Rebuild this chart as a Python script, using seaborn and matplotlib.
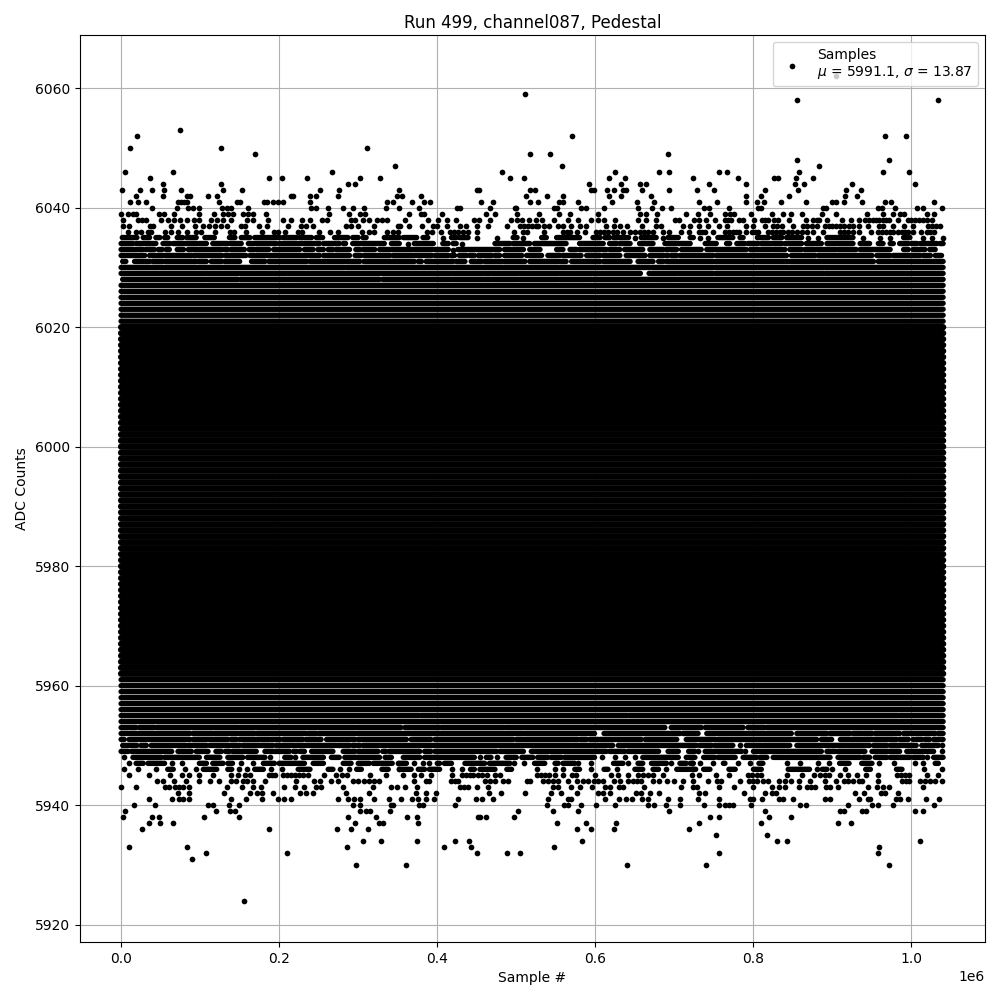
import pandas as pd
import matplotlib
matplotlib.use('Agg')
import matplotlib.pyplot as plt
import seaborn as sns

# Sample positions are in thousands of samples
pts_6062 = [904]
pts_6059 = [511]
pts_6058 = [855.5, 1034]
pts_6053 = [74.5]
pts_6052 = [20, 571, 967, 993.5]
pts_6050 = [11, 126, 311]
pts_6049 = [169, 517.5, 543, 692]
pts_6048 = [855.5, 971]
pts_6047 = [347, 558, 883]
pts_6046 = [5, 66, 267, 482, 625, 681, 693.5, 757, 766, 858, 964, 997]
pts_6045 = [36.5, 187, 204, 235, 302, 328, 492, 510, 617.5, 638, 723, 781, 826, 831, 854, 876]
pts_6044 = [53, 126, 287, 296, 592, 633, 657, 664, 744, 790, 852, 864, 925, 1004]
pts_6043 = [1, 24, 39, 54, 76, 129, 153, 252, 276, 352, 450, 453, 517.5, 524, 595, 598.5, 615, 623,
            635, 639, 659, 693.5, 728, 750, 815, 857, 917, 936]
pts_6042 = [19, 53, 83, 87, 110, 121, 215, 218, 239, 247, 274, 349, 355, 380, 512, 539, 559, 617.5,
            633, 671, 791, 810, 845, 916, 931]
pts_6041 = [11, 21, 31, 72, 76, 80, 83, 124, 147, 150, 181, 185, 192, 199, 205, 239, 336, 344, 368,
            383, 391, 455.5, 471, 517.5, 528, 554, 559, 578, 621, 653, 674, 731, 754, 790, 804, 814,
            835, 867, 899, 905, 914, 938, 966, 974, 1029]
pts_6040 = [39, 71, 85, 91, 98.5, 128, 134, 139, 161, 240, 247, 262, 281, 293, 307, 335, 352, 377,
            425, 429, 467, 498, 500, 548, 552, 582, 588, 611, 654, 672, 684.5, 696, 738, 744, 769,
            806, 809, 888, 892, 958, 963, 979, 1007, 1014, 1039]
pts_6039 = [0, 9, 15, 19, 48, 54, 67, 98.5, 118, 129, 135, 141, 154, 161, 167, 183, 263, 288, 302, 309,
            364, 379.5, 383, 406, 462, 473, 501, 529, 554, 568, 603.5, 657, 664, 678, 715, 730, 745,
            764, 771, 776, 797, 823, 838, 848, 862, 887, 905, 944, 964, 977, 986, 990, 1019, 1029]
pts_6038 = [2, 21, 26, 31, 50, 59, 67, 74, 83, 92, 98.5, 114, 121, 129, 139, 159, 167, 186, 205, 215,
            229, 239, 254, 261, 291, 296, 306, 314, 324, 330, 336, 359, 388, 401, 412, 424, 447, 453,
            467, 493, 501, 507, 516, 525, 533, 548, 566, 578, 595, 604, 611, 625, 654, 664, 677, 701,
            706, 725, 731, 740, 752, 764, 768, 772, 782, 787, 801, 811, 815, 819, 826, 831, 845, 866,
            876, 880, 883, 893, 912, 923, 934, 941, 946, 951, 955, 959, 964, 968, 972, 983, 995, 1000,
            1005, 1010, 1015, 1020, 1026]
pts_6037 = [3, 10, 36, 40, 63, 77, 93, 103, 111, 119, 126, 134, 152, 157, 174, 185, 211, 228, 234, 243,
            285, 291, 300, 320, 350, 353, 364, 381, 395, 400, 412, 429, 436, 450, 464, 488, 505, 510,
            515, 520, 525, 528, 535, 541, 553, 559, 569, 581, 588, 614, 623, 631, 640, 659, 677, 683,
            711, 720, 731, 742, 757, 767, 791, 800, 815, 825, 830, 836, 850, 863, 868, 874, 880, 890,
            895, 900, 905, 910, 915, 921, 926, 933, 945, 959, 964, 977, 990, 1002, 1021, 1026, 1031, 1036]
pts_6036 = [9, 19, 25, 34, 38, 55, 63, 72, 83, 95, 101, 119, 138, 143, 158, 178, 193, 199, 207, 224, 229,
            250, 264, 274, 305, 314, 320, 336, 344, 350, 387, 393, 405, 416, 421, 426, 433, 439, 450,
            497, 509, 514, 535, 559, 564, 568, 577, 587, 601, 606, 611, 616, 622, 627, 635, 644, 650,
            656, 661, 667, 673, 685, 693.5, 708, 718, 731, 735, 739, 749, 764, 769, 774, 778, 782, 790,
            798, 802, 806, 819, 824, 829, 834, 838, 844, 849, 855, 861, 868, 876, 888, 909, 914, 920,
            926, 933, 949, 958, 963, 968, 973, 977, 983, 988, 992, 996, 1002, 1012, 1019, 1024, 1028]

pts_5947 = [10, 64, 77, 152, 167, 350, 371, 382, 390, 497, 510, 578, 595, 641, 696, 722, 733, 749, 780, 796,
            843, 859, 882, 895, 959, 978, 1005, 1014]
pts_5946 = [3.5, 21, 44, 81, 95, 149, 159, 190, 204, 277, 288, 352, 419, 431, 526, 549, 559, 594, 628,
            690, 724, 880, 900, 916, 1016, 1039]
pts_5945 = [10, 35, 62, 77, 86, 99, 116, 139, 148, 157, 163, 187, 191, 195, 205, 210, 215, 220, 225, 230,
            236, 257, 272, 279, 286, 315, 335, 357, 371, 379, 392, 419, 431, 436, 441, 445, 452, 457,
            463, 473, 479, 526, 531, 536, 541, 549, 559, 570, 576, 599, 620, 629, 641, 654, 660, 667,
            673, 686, 722, 731, 753, 769, 793, 798, 804, 810, 842, 862, 877, 884, 890, 896, 910, 920,
            931, 942, 958, 982, 987, 992, 997, 1020, 1033]
pts_5944 = [45, 53, 67, 82, 99, 112, 124, 139, 146, 154, 159, 167, 182, 221, 244, 252, 266, 274, 293, 300,
            307, 314, 320, 326, 371, 386, 390, 418, 422, 426, 461, 467, 473, 483, 490, 513, 517, 534,
            540, 546, 553, 566, 577, 584, 591, 598, 604, 610, 623, 631, 641, 648, 653, 658, 673, 681,
            691, 700, 711, 723, 742, 754, 759, 783, 795, 800, 805, 812, 819, 833, 840, 848, 858, 872,
            890, 904, 914, 920, 926, 933, 938, 958, 988, 993, 997, 1011, 1017, 1023, 1030, 1038]
pts_5943 = [0, 19, 55, 60, 68, 73, 78, 86, 134, 153, 167, 177, 206, 220, 231, 247, 253, 281, 319, 342, 349,
            359, 374, 429, 434, 439, 450, 464, 547, 553, 569, 580, 596, 612, 618, 630, 635, 662, 709,
            724, 729, 756, 776, 799, 823, 833, 840, 858, 868, 873, 878, 892, 897, 907, 945, 956, 964,
            972, 1014]
pts_5942 = [72, 86, 130, 163, 172, 178, 192, 226, 234, 243, 285, 314, 373, 386, 398, 466, 481, 511, 544,
            557, 577, 604, 610, 618, 652, 658, 669, 681, 731, 739, 788, 815, 823, 828, 929, 940, 961,
            967, 983]
pts_5941 = [35, 64, 73, 78, 86, 139, 158, 178, 198.5, 206, 215, 274, 287, 295, 302, 320, 339, 354, 368, 376,
            386, 396, 426, 449, 457, 471, 540, 566, 569, 612, 630, 639, 647, 659, 667, 692, 707, 730, 757,
            796, 800, 811, 833, 838, 850, 891, 897, 933, 945, 948, 980, 985, 995, 1018, 1035]
pts_5940 = [16, 43, 110, 116, 137, 149, 293, 302, 342, 344, 377, 382, 423, 539, 560, 566, 582, 601, 625, 666,
            674, 690, 707, 737, 757, 764, 769, 774, 797, 859, 866, 920, 950, 957, 977, 1029]
pts_5939 = [5, 120, 138, 144, 302, 310, 315, 340, 502, 547, 578, 693.5, 815, 910, 914, 938, 943, 1005, 1014]
pts_5938 = [2, 39, 48, 105, 149, 287, 322.5, 362, 374, 452, 454, 462, 497, 745, 757, 820, 847]
pts_5937 = [35, 49, 66, 296, 326, 331, 376, 552, 588, 626, 731, 809, 907, 924]
pts_5936 = [26, 187, 273, 291, 312.5, 577, 595, 623, 718]
pts_5935 = [753, 817]
pts_5934 = [306, 329, 374, 423, 440, 583, 830, 843, 1011]
pts_5933 = [10, 83, 286, 409, 443, 548, 959]
pts_5932 = [107, 210, 450, 488, 505, 757, 957]
pts_5931 = [90]
pts_5930 = [297, 360.5, 640, 740, 971]
pts_5924 = [155.5]

# Runs of overlapping samples (first, last), thousands of samples
runs_6035 = [(1.5, 20), (28, 36), (44, 49), (55, 59), (71, 78), (83, 95), (106, 118), (137, 144), (152, 163),
             (169, 201), (205, 222), (226, 230), (232, 241), (247, 255), (270, 287), (293, 300), (306, 310),
             (333, 352), (357, 374), (382, 388), (407, 407), (418, 424), (428, 439), (450, 450), (476, 476),
             (496, 501), (509, 509), (532, 538), (551, 580), (597, 606), (612, 618), (623, 642), (650, 650),
             (658, 677), (686, 686), (692, 705), (720, 724), (732, 732), (742, 742), (755, 774), (783, 787),
             (805, 819), (825, 836), (842, 861), (869, 869), (882, 882), (893, 926), (939, 939), (960, 960),
             (973, 973), (990, 998), (1015, 1015), (1026, 1026), (1040, 1040)]
runs_6034 = [(0, 15), (19, 44), (53, 62), (66, 97), (99, 108), (116, 135), (138, 152), (161, 196), (200, 251),
             (256, 276), (281, 284), (293, 333), (342, 352), (363, 363), (371, 395), (407, 414), (420, 424),
             (431, 431), (473, 492), (496, 517), (523, 563), (580, 610), (618, 627), (631, 644), (656, 673),
             (688, 703), (705, 720), (739, 753), (766, 770), (779, 789), (793, 806), (810, 836), (840, 861),
             (867, 886), (893, 926), (935, 947), (958, 964), (973, 977), (985, 996), (1000, 1007),
             (1011, 1032), (1036, 1040)]
runs_6033 = [(0, 20), (22.5, 27.5), (31, 42), (47, 52), (57, 61), (71, 79), (85, 127), (130, 135), (139, 156),
             (162, 168), (171, 187), (193, 226), (232, 243), (249, 256), (262, 268), (272, 289), (297, 302),
             (306, 321), (327, 395), (397, 414), (420, 420), (426, 479), (485, 509), (517, 530), (551, 559),
             (568, 576), (580, 614), (618, 631), (637, 660), (669, 686), (690, 703), (709, 734), (741, 791),
             (796, 823), (825, 840), (846, 861), (865, 905), (907, 930), (935, 973), (990, 996), (1002, 1017),
             (1023, 1030)]
runs_6032 = [(0, 30), (36, 89), (92, 128), (132, 158), (163, 251), (256, 289), (296, 304), (308, 340), (344, 369),
             (371, 393), (397, 414), (418, 422), (428, 437), (441, 447), (452, 469), (473, 479), (485, 507),
             (513, 532), (540, 555), (559, 582), (589, 606), (610, 631), (639, 663), (669, 692), (696, 703),
             (707, 749), (753, 842), (848, 878), (882, 950), (956, 973), (977, 1011), (1015, 1024), (1030, 1038)]
runs_6031 = [(2, 6), (17, 36), (40, 53), (56, 95), (98, 108), (114, 127), (131, 150), (165, 182), (187, 235),
             (239, 302), (307, 371), (376, 380), (386, 420), (424, 435), (443, 456), (460, 483), (485, 511),
             (517, 553), (555, 563), (570, 606), (610, 644), (654, 673), (680, 686), (690, 749), (751, 844),
             (846, 952), (958, 1040)]
runs_6030 = [(0, 283), (285, 669), (672, 1040)]
runs_6029 = [(0, 657), (668, 749), (752, 889), (891, 1040)]
runs_6028 = [(2, 107), (109, 148), (151, 210), (212, 327), (331, 418), (420, 457), (459, 467), (469, 502),
             (504, 553), (555, 595), (597, 669), (671, 703), (705, 1040)]

runs_5946 = [(59, 66), (104, 121), (135, 140), (169, 180), (224, 239), (262, 268), (298, 304), (330, 338), (352, 367),
             (376, 384), (390, 403), (442, 447), (454, 473), (488, 494), (574, 580), (611, 616), (650, 660), (673, 680),
             (703, 718), (720, 727), (737, 745), (769, 777), (800, 810), (844, 871), (887, 893), (942, 948), (981, 988)]
runs_5947 = [(19, 28), (34, 55), (99, 108), (116, 129), (135, 141), (180, 194), (200, 232), (243, 256), (281, 291),
             (300, 314), (319, 343), (352, 361), (400, 403), (409, 418), (435, 460), (466, 492), (523, 536), (549, 553),
             (559, 574), (623, 635), (654, 660), (671, 690), (707, 715), (720, 724), (762, 764), (807, 812), (909, 921),
             (937, 950), (1030, 1034)]
runs_5948 = [(4, 4), (15, 51), (55, 99), (108, 125), (135, 154), (160, 182), (188, 188), (207, 215), (220, 220),
             (230, 256), (266, 276), (283, 327), (334, 342), (357, 378), (384, 447), (454, 454), (462, 468),
             (475, 475), (487, 500), (507, 521), (527, 540), (544, 557), (561, 599), (608, 608), (625, 625),
             (637, 637), (650, 650), (660, 671), (673, 705), (715, 726), (737, 751), (755, 777), (787, 804),
             (808, 817), (825, 897), (907, 935), (939, 947), (954, 969), (973, 998), (1002, 1015), (1020, 1020),
             (1028, 1040)]
runs_5949 = [(0, 9), (13, 64), (72, 89), (95, 110), (120, 127), (132, 137), (141, 171), (182, 213), (218, 222),
             (226, 232), (241, 268), (281, 296), (300, 325), (331, 335), (339, 378), (384, 392), (397, 475),
             (479, 509), (519, 614), (618, 637), (641, 680), (692, 705), (718, 726), (730, 730), (739, 785),
             (789, 789), (800, 840), (842, 886), (893, 904), (907, 916), (918, 941), (950, 985), (994, 1028),
             (1039, 1039)]
runs_5950 = [(2, 20), (25, 32), (38, 82), (85, 108), (112, 150), (154, 175), (177, 192), (196, 220), (222, 272),
             (274, 289), (293, 302), (306, 570), (572, 622), (629, 728), (732, 747), (751, 774), (783, 783),
             (791, 810), (812, 846), (855, 897), (899, 947), (952, 969), (973, 1006), (1013, 1019), (1021, 1034),
             (1038, 1038)]
runs_5951 = [(0, 4), (10, 87), (91, 135), (139, 146), (150, 188), (190, 201), (205, 230), (234, 253), (260, 296),
             (300, 361), (367, 392), (397, 496), (500, 578), (581, 589), (593, 604), (606, 658), (663, 703),
             (715, 752), (755, 880), (886, 899), (910, 981), (985, 996), (1002, 1003), (1006, 1013), (1017, 1023),
             (1028, 1040)]
runs_5952 = [(0, 9), (11, 87), (91, 116), (118, 169), (172, 234), (237, 247), (250, 367), (369, 509), (511, 599),
             (611, 707), (711, 730), (741, 848), (855, 893), (897, 922), (926, 937), (939, 950), (954, 977),
             (979, 985), (990, 1030), (1034, 1040)]
runs_5953 = [(0, 19), (23, 42), (45, 148), (150, 296), (298, 354), (359, 403), (405, 485), (487, 688), (696, 734),
             (739, 787), (793, 814), (817, 1040)]
runs_5955 = [(0, 15), (16, 377), (379, 641), (643, 983), (985, 1040)]

edge_levels = [6027, 6026, 6025, 6024, 6023, 6022, 6021, 5961, 5960, 5959, 5958, 5957, 5956, 5954]
core_levels = [6020, 6019, 6018, 6017, 6016, 6015, 6014, 6013, 6012, 6011, 6010, 6009, 6008, 6007, 6006,
               6005, 6004, 6003, 6002, 6001, 6000, 5999, 5998, 5997, 5996, 5995, 5994, 5993, 5992, 5991,
               5990, 5989, 5988, 5987, 5986, 5985, 5984, 5983, 5982, 5981, 5980, 5979, 5978, 5977, 5976,
               5975, 5974, 5973, 5972, 5971, 5970, 5969, 5968, 5967, 5966, 5965, 5964, 5963, 5962]
first_sample = 0
last_sample = 1040

point_rows = [(6062, pts_6062), (6059, pts_6059), (6058, pts_6058), (6053, pts_6053), (6052, pts_6052),
              (6050, pts_6050), (6049, pts_6049), (6048, pts_6048), (6047, pts_6047), (6046, pts_6046),
              (6045, pts_6045), (6044, pts_6044), (6043, pts_6043), (6042, pts_6042), (6041, pts_6041),
              (6040, pts_6040), (6039, pts_6039), (6038, pts_6038), (6037, pts_6037), (6036, pts_6036),
              (5947, pts_5947), (5946, pts_5946), (5945, pts_5945), (5944, pts_5944), (5943, pts_5943),
              (5942, pts_5942), (5941, pts_5941), (5940, pts_5940), (5939, pts_5939), (5938, pts_5938),
              (5937, pts_5937), (5936, pts_5936), (5935, pts_5935), (5934, pts_5934), (5933, pts_5933),
              (5932, pts_5932), (5931, pts_5931), (5930, pts_5930), (5924, pts_5924)]
run_rows = [(6035, runs_6035), (6034, runs_6034), (6033, runs_6033), (6032, runs_6032), (6031, runs_6031),
            (6030, runs_6030), (6029, runs_6029), (6028, runs_6028), (5946, runs_5946), (5947, runs_5947),
            (5948, runs_5948), (5949, runs_5949), (5950, runs_5950), (5951, runs_5951), (5952, runs_5952),
            (5953, runs_5953), (5955, runs_5955)]

# Single samples go to the scatter, runs go to the horizontal strokes
samples = []
counts = []
strokes = []
for level, xs in point_rows:
    for x in xs:
        samples.append(x * 1000)
        counts.append(level)
for level, runs in run_rows:
    for start, end in runs:
        if start == end:
            samples.append(start * 1000)
            counts.append(level)
        else:
            strokes.append((level, start * 1000, end * 1000))
df = pd.DataFrame({'sample': samples, 'adc': counts})
stroke_df = pd.DataFrame(strokes, columns=['adc', 'start', 'end'])

# Create the plot
fig, ax = plt.subplots(figsize=(10, 10))
dot_pt = 4.1
row_pt = 3.9

sns.scatterplot(data=df, x='sample', y='adc', color='black', marker='o', s=dot_pt ** 2, linewidth=0,
                label='Samples\n$\\mu$ = 5991.1, $\\sigma$ = 13.87', ax=ax, zorder=3)
strokes_lc = ax.hlines(stroke_df['adc'], stroke_df['start'], stroke_df['end'], color='black', linewidth=row_pt,
                       capstyle='round', zorder=3)
edge_lc = ax.hlines(edge_levels, first_sample * 1000, last_sample * 1000, color='black', linewidth=row_pt,
                    capstyle='round', zorder=3)
# Solid middle of the band, where the rows of dots close up
core_lc = ax.hlines(core_levels, first_sample * 1000, last_sample * 1000, color='black', linewidth=4.6,
                    capstyle='round', zorder=3)
for lc in [strokes_lc, edge_lc, core_lc]:
    lc.set_snap(False)

# Customize the plot
ax.set_xlim(-52000, 1093000)
ax.set_ylim(5917.1, 6068.9)
ax.set_title('Run 499, channel087, Pedestal', pad=5)
ax.set_xlabel('Sample #')
ax.set_ylabel('ADC Counts')
ax.grid(True)
ax.legend(loc='upper right')

fig.subplots_adjust(left=0.08, right=0.985, top=0.965, bottom=0.058)
plt.savefig('out.png', dpi=100)
